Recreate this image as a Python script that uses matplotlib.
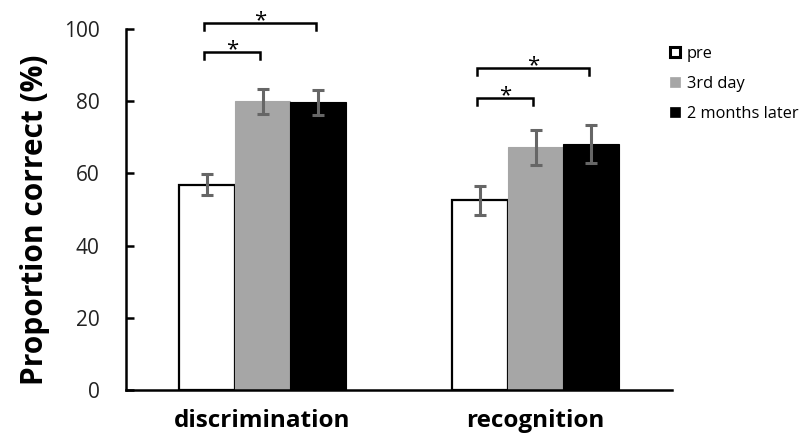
import matplotlib
matplotlib.use("Agg")
import matplotlib.pyplot as plt
from matplotlib.patches import Patch
import numpy as np

categories = ["discrimination", "recognition"]
series = ["pre", "3rd day", "2 months later"]
means = {
    "pre": [56.9, 52.5],
    "3rd day": [80.0, 67.2],
    "2 months later": [79.7, 68.2],
}
errors = {
    "pre": [2.9, 4.1],
    "3rd day": [3.5, 4.9],
    "2 months later": [3.5, 5.3],
}
yticks = [0, 20, 40, 60, 80, 100]
# significance brackets: (category index, series a, series b, line y, star label)
sig_pairs = [
    (0, 0, 1, 93.6, "*"),
    (0, 0, 2, 101.7, "*"),
    (1, 0, 1, 80.9, "*"),
    (1, 0, 2, 89.2, "*"),
]

facecolors = ["white", "#a6a6a6", "black"]
edgecolors = ["black", "#a6a6a6", "black"]

plt.rcParams["font.family"] = ["Open Sans", "DejaVu Sans"]

fig = plt.figure(figsize=(8.02, 4.34), dpi=100)
ax = fig.add_axes([126 / 802, 1 - 390 / 434, 546 / 802, 361 / 434])

x = np.arange(len(categories))
w = 0.205
for i, s in enumerate(series):
    pos = x + (i - 1) * w
    ax.bar(pos, means[s], width=w, color=facecolors[i], edgecolor=edgecolors[i],
           linewidth=1.6 if i == 0 else 0.8, zorder=2)
    ax.errorbar(pos, means[s], yerr=errors[s], fmt="none", ecolor="#666666",
                elinewidth=2.2, capsize=4, capthick=2.2, zorder=3)

for ci, a, b, yl, lab in sig_pairs:
    xa = x[ci] + (a - 1) * w - 0.008
    xb = x[ci] + (b - 1) * w - 0.008
    drop = 2.0
    ax.plot([xa, xa, xb, xb], [yl - drop, yl, yl, yl - drop], color="black",
            lw=1.8, clip_on=False, zorder=4, solid_joinstyle="miter")
    ax.text((xa + xb) / 2, yl - 0.9, lab, ha="center", va="baseline", fontsize=16,
            clip_on=False)

ax.set_xlim(-0.5, 1.5)
ax.set_ylim(0, 100)
ax.set_yticks(yticks)
ax.set_yticklabels([str(t) for t in yticks], fontsize=15, color="#222222")
ax.set_xticks(x)
ax.set_xticklabels(categories, fontsize=17.5, fontweight="bold")
ax.tick_params(axis="y", direction="in", length=6, width=1.8, pad=19)
ax.tick_params(axis="x", length=0, pad=14)
for sp in ["top", "right"]:
    ax.spines[sp].set_visible(False)
ax.spines["left"].set_linewidth(1.8)
ax.spines["bottom"].set_linewidth(1.8)

ax.set_ylabel("Proportion correct (%)", fontsize=21.5, fontweight="bold")
ax.yaxis.set_label_coords(-0.139, 0.471)

handles = [Patch(facecolor=facecolors[i], edgecolor="black" if i != 1 else "#a6a6a6",
                 linewidth=2.2 if i == 0 else 0.5) for i in range(3)]
fig.legend(handles, series, loc="upper left", bbox_to_anchor=(670 / 802, 1 - 46 / 434),
           frameon=False, fontsize=11.8, handlelength=0.61, handleheight=0.61,
           handletextpad=0.43, labelspacing=0.85, borderpad=0, borderaxespad=0)

fig.savefig("out.png", dpi=100, facecolor="white")
